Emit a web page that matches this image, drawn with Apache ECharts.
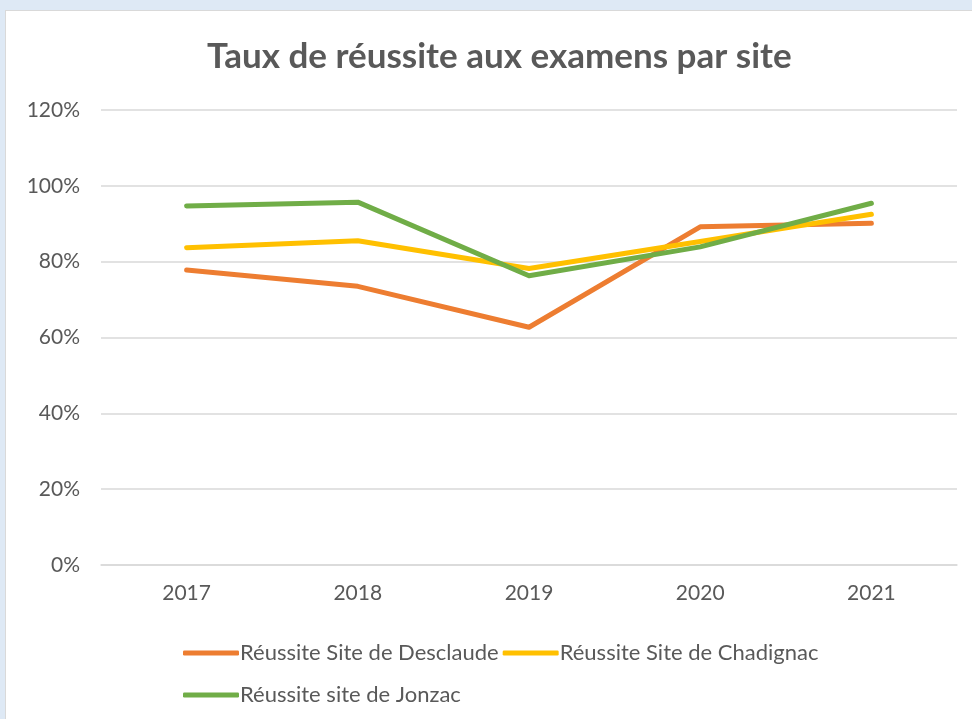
<!DOCTYPE html>
<html>
<head>
    <meta charset="utf-8">
    <title>Taux de réussite</title>
    <script type="text/javascript" src="https://cdn.jsdelivr.net/npm/echarts@6/dist/echarts.min.js"></script>
    <style>
        html, body { margin: 0; padding: 0; background: #dee9f5; }
        #main { position: absolute; left: 5px; top: 10px; width: 967px; height: 709px;
                background: #ffffff; box-sizing: border-box; border: 1px solid #d9d9d9; border-right: none; border-bottom: none; }
    </style>
</head>

<body>
    <div id="main"></div>
    <script type="text/javascript">
    var years = ['2017', '2018', '2019', '2020', '2021'];
    var desclaude = [77.8, 73.5, 62.7, 89.2, 90.1];
    var chadignac = [83.7, 85.5, 78.2, 85.3, 92.5];
    var jonzac = [94.7, 95.7, 76.3, 83.9, 95.4];
    var seriesNames = ['Réussite Site de Desclaude', 'Réussite Site de Chadignac', 'Réussite site de Jonzac'];
    var colors = ['#ed7d31', '#ffc000', '#70ad47'];

    var myChart = echarts.init(document.getElementById('main'));
    var font = 'Lato, "Open Sans", sans-serif';

    function makeLine(idx, values) {
        return {
            name: seriesNames[idx],
            type: 'line',
            symbol: 'none',
            data: values,
            itemStyle: { color: colors[idx] },
            lineStyle: { width: 5, color: colors[idx], cap: 'round', join: 'round' }
        };
    }

    // legend split over two rows, like the original
    function makeLegend(top, names) {
        return {
            left: 172,
            top: top,
            itemGap: 4,
            itemWidth: 56,
            itemHeight: 5,
            icon: 'roundRect',
            textStyle: { fontFamily: font, fontSize: 22, color: '#595959', padding: [0, 0, 0, -4] },
            data: names
        };
    }

    var option = {
        animation: false,
        title: {
            text: 'Taux de réussite aux examens par site',
            left: 201,
            top: 28,
            padding: 0,
            textStyle: { fontFamily: font, fontSize: 35, fontWeight: 'bold', color: '#595959' }
        },
        grid: { left: 95, right: 15, top: 99, bottom: 154 },
        legend: [
            makeLegend(626, [seriesNames[0], seriesNames[1]]),
            makeLegend(668, [seriesNames[2]])
        ],
        xAxis: {
            type: 'category',
            data: years,
            boundaryGap: true,
            axisLine: { show: true, lineStyle: { color: '#d9d9d9', width: 1.5 } },
            axisTick: { show: false },
            axisLabel: { fontFamily: font, fontSize: 21, color: '#595959', margin: 18 }
        },
        yAxis: {
            type: 'value',
            min: 0,
            max: 120,
            interval: 20,
            axisLine: { show: false },
            axisTick: { show: false },
            axisLabel: { fontFamily: font, fontSize: 21, color: '#595959', margin: 21, formatter: '{value}%' },
            splitLine: { lineStyle: { color: '#d9d9d9', width: 1.5 } }
        },
        series: [
            makeLine(0, desclaude),
            makeLine(1, chadignac),
            makeLine(2, jonzac)
        ]
    };
    myChart.setOption(option);
    </script>
</body>
</html>
